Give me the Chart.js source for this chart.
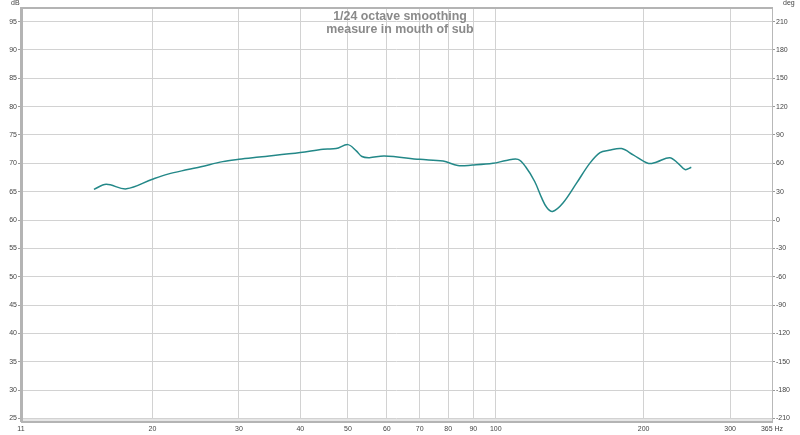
<!DOCTYPE html>
<html>
<head>
<meta charset="utf-8">
<script src="https://cdn.jsdelivr.net/npm/chart.js@4"></script>
<style>
html,body{margin:0;padding:0;background:#fff;}
#wrap{position:relative;width:800px;height:435px;}
</style>
</head>
<body>
<div id="wrap"><canvas id="c" width="800" height="435"></canvas></div>
<script>
// Data
const freqHz = [15.2,16.1,17.7,20.0,21.5,23.6,25.1,27.8,30.0,33.0,40.0,44.5,47.3,50.0,52.0,53.4,55.3,59.3,70.0,78.1,83.7,89.6,98.7,105,111,115,120,124,127,130.5,137,146,155.3,163,170,180.3,190.4,204,212,226,235,242.8,250];
const splDb  = [65.4,66.3,65.5,67.2,68.1,68.9,69.4,70.3,70.7,71.1,71.9,72.5,72.6,73.3,72.2,71.2,71.0,71.3,70.7,70.4,69.6,69.7,70.0,70.5,70.7,69.4,66.8,63.9,62.2,61.5,63.0,66.5,70.0,71.9,72.3,72.6,71.5,70.0,70.2,71.0,70.0,68.9,69.3];
const xTickValues = [10.8,20,30,40,50,60,70,80,90,100,200,300,365];
const xTickLabels = ["11","20","30","40","50","60","70","80","90","100","200","300","365 Hz"];
const titleLines = ["1/24 octave smoothing","measure in mouth of sub"];
const leftUnit = "dB";
const rightUnit = "deg";

const points = freqHz.map((f,i)=>({x:f,y:splDb[i]}));
const dbMin = 24.55, dbMax = 97.4;
const degOf = v => (v-60)*6;

const framePlugin = {
  id:'frame',
  afterDraw(chart){
    const {ctx, chartArea:a} = chart;
    ctx.save();
    ctx.fillStyle = '#e6e6e6';
    ctx.fillRect(a.left, a.bottom-2, a.right-a.left, 3);
    ctx.strokeStyle = '#b8b8b8';
    ctx.lineWidth = 1;
    ctx.beginPath();
    ctx.moveTo(a.right+0.5, a.top); ctx.lineTo(a.right+0.5, a.bottom);
    ctx.stroke();
    ctx.fillStyle = '#b4b4b4';
    ctx.fillRect(a.left, a.top-1, a.right-a.left+1, 2);
    ctx.fillRect(a.left-1, a.top-1, 3, a.bottom-a.top+2);
    ctx.fillRect(a.left, a.bottom, a.right-a.left+1, 2);
    ctx.fillStyle = '#8a8a8a';
    ctx.font = 'bold 12.4px "Liberation Sans", Arial, sans-serif';
    ctx.textAlign = 'center';
    ctx.textBaseline = 'middle';
    const cx = 400;
    ctx.fillText(titleLines[0], cx, 16.5);
    ctx.fillText(titleLines[1], cx, 30);
    ctx.fillStyle = '#444';
    ctx.font = '7px "Liberation Sans", Arial, sans-serif';
    ctx.textAlign = 'left';
    ctx.fillText(leftUnit, 11, 3.5);
    ctx.fillText(rightUnit, 783, 3.5);
    ctx.restore();
  }
};

new Chart(document.getElementById('c'), {
  type:'line',
  data:{datasets:[{
    data: points,
    borderColor:'#238888',
    borderWidth:1.5,
    pointRadius:0,
    tension:0.35,
    fill:false
  }]},
  options:{
    responsive:false,
    animation:false,
    events:[],
    layout:{padding:{top:8,left:0,right:0,bottom:0}},
    plugins:{legend:{display:false},tooltip:{enabled:false},title:{display:false}},
    scales:{
      x:{
        type:'logarithmic',
        min:10.8, max:365,
        afterBuildTicks(s){ s.ticks = xTickValues.map(v=>({value:v})); },
        afterFit(s){ s.height = 14; },
        ticks:{
          autoSkip:false, maxRotation:0, padding:4,
          color:'#444',
          font:{size:7, family:'"Liberation Sans", Arial, sans-serif'},
          callback(v,i){ return xTickLabels[i]; }
        },
        grid:{color:(c)=> (c.index===0||c.index===xTickValues.length-1)?'rgba(0,0,0,0)':'#d2d2d2', lineWidth:1, drawTicks:false},
        border:{display:false}
      },
      y:{
        type:'linear', position:'left',
        min:dbMin, max:dbMax,
        afterBuildTicks(s){ const t=[]; for(let v=25;v<=95;v+=5) t.push({value:v}); s.ticks=t; },
        afterFit(s){ s.width = 21; },
        ticks:{color:'#444', padding:1, font:{size:7, family:'"Liberation Sans", Arial, sans-serif'}},
        grid:{color:'#d2d2d2', lineWidth:1, tickLength:3, tickColor:'#999'},
        border:{display:false}
      },
      y2:{
        type:'linear', position:'right',
        min:degOf(dbMin), max:degOf(dbMax),
        afterBuildTicks(s){ const t=[]; for(let v=-210;v<=210;v+=30) t.push({value:v}); s.ticks=t; },
        afterFit(s){ s.width = 28; },
        ticks:{color:'#444', padding:1, font:{size:7, family:'"Liberation Sans", Arial, sans-serif'}},
        grid:{drawOnChartArea:false, tickLength:3, tickColor:'#999'},
        border:{display:false}
      }
    }
  },
  plugins:[framePlugin]
});
</script>
</body>
</html>
